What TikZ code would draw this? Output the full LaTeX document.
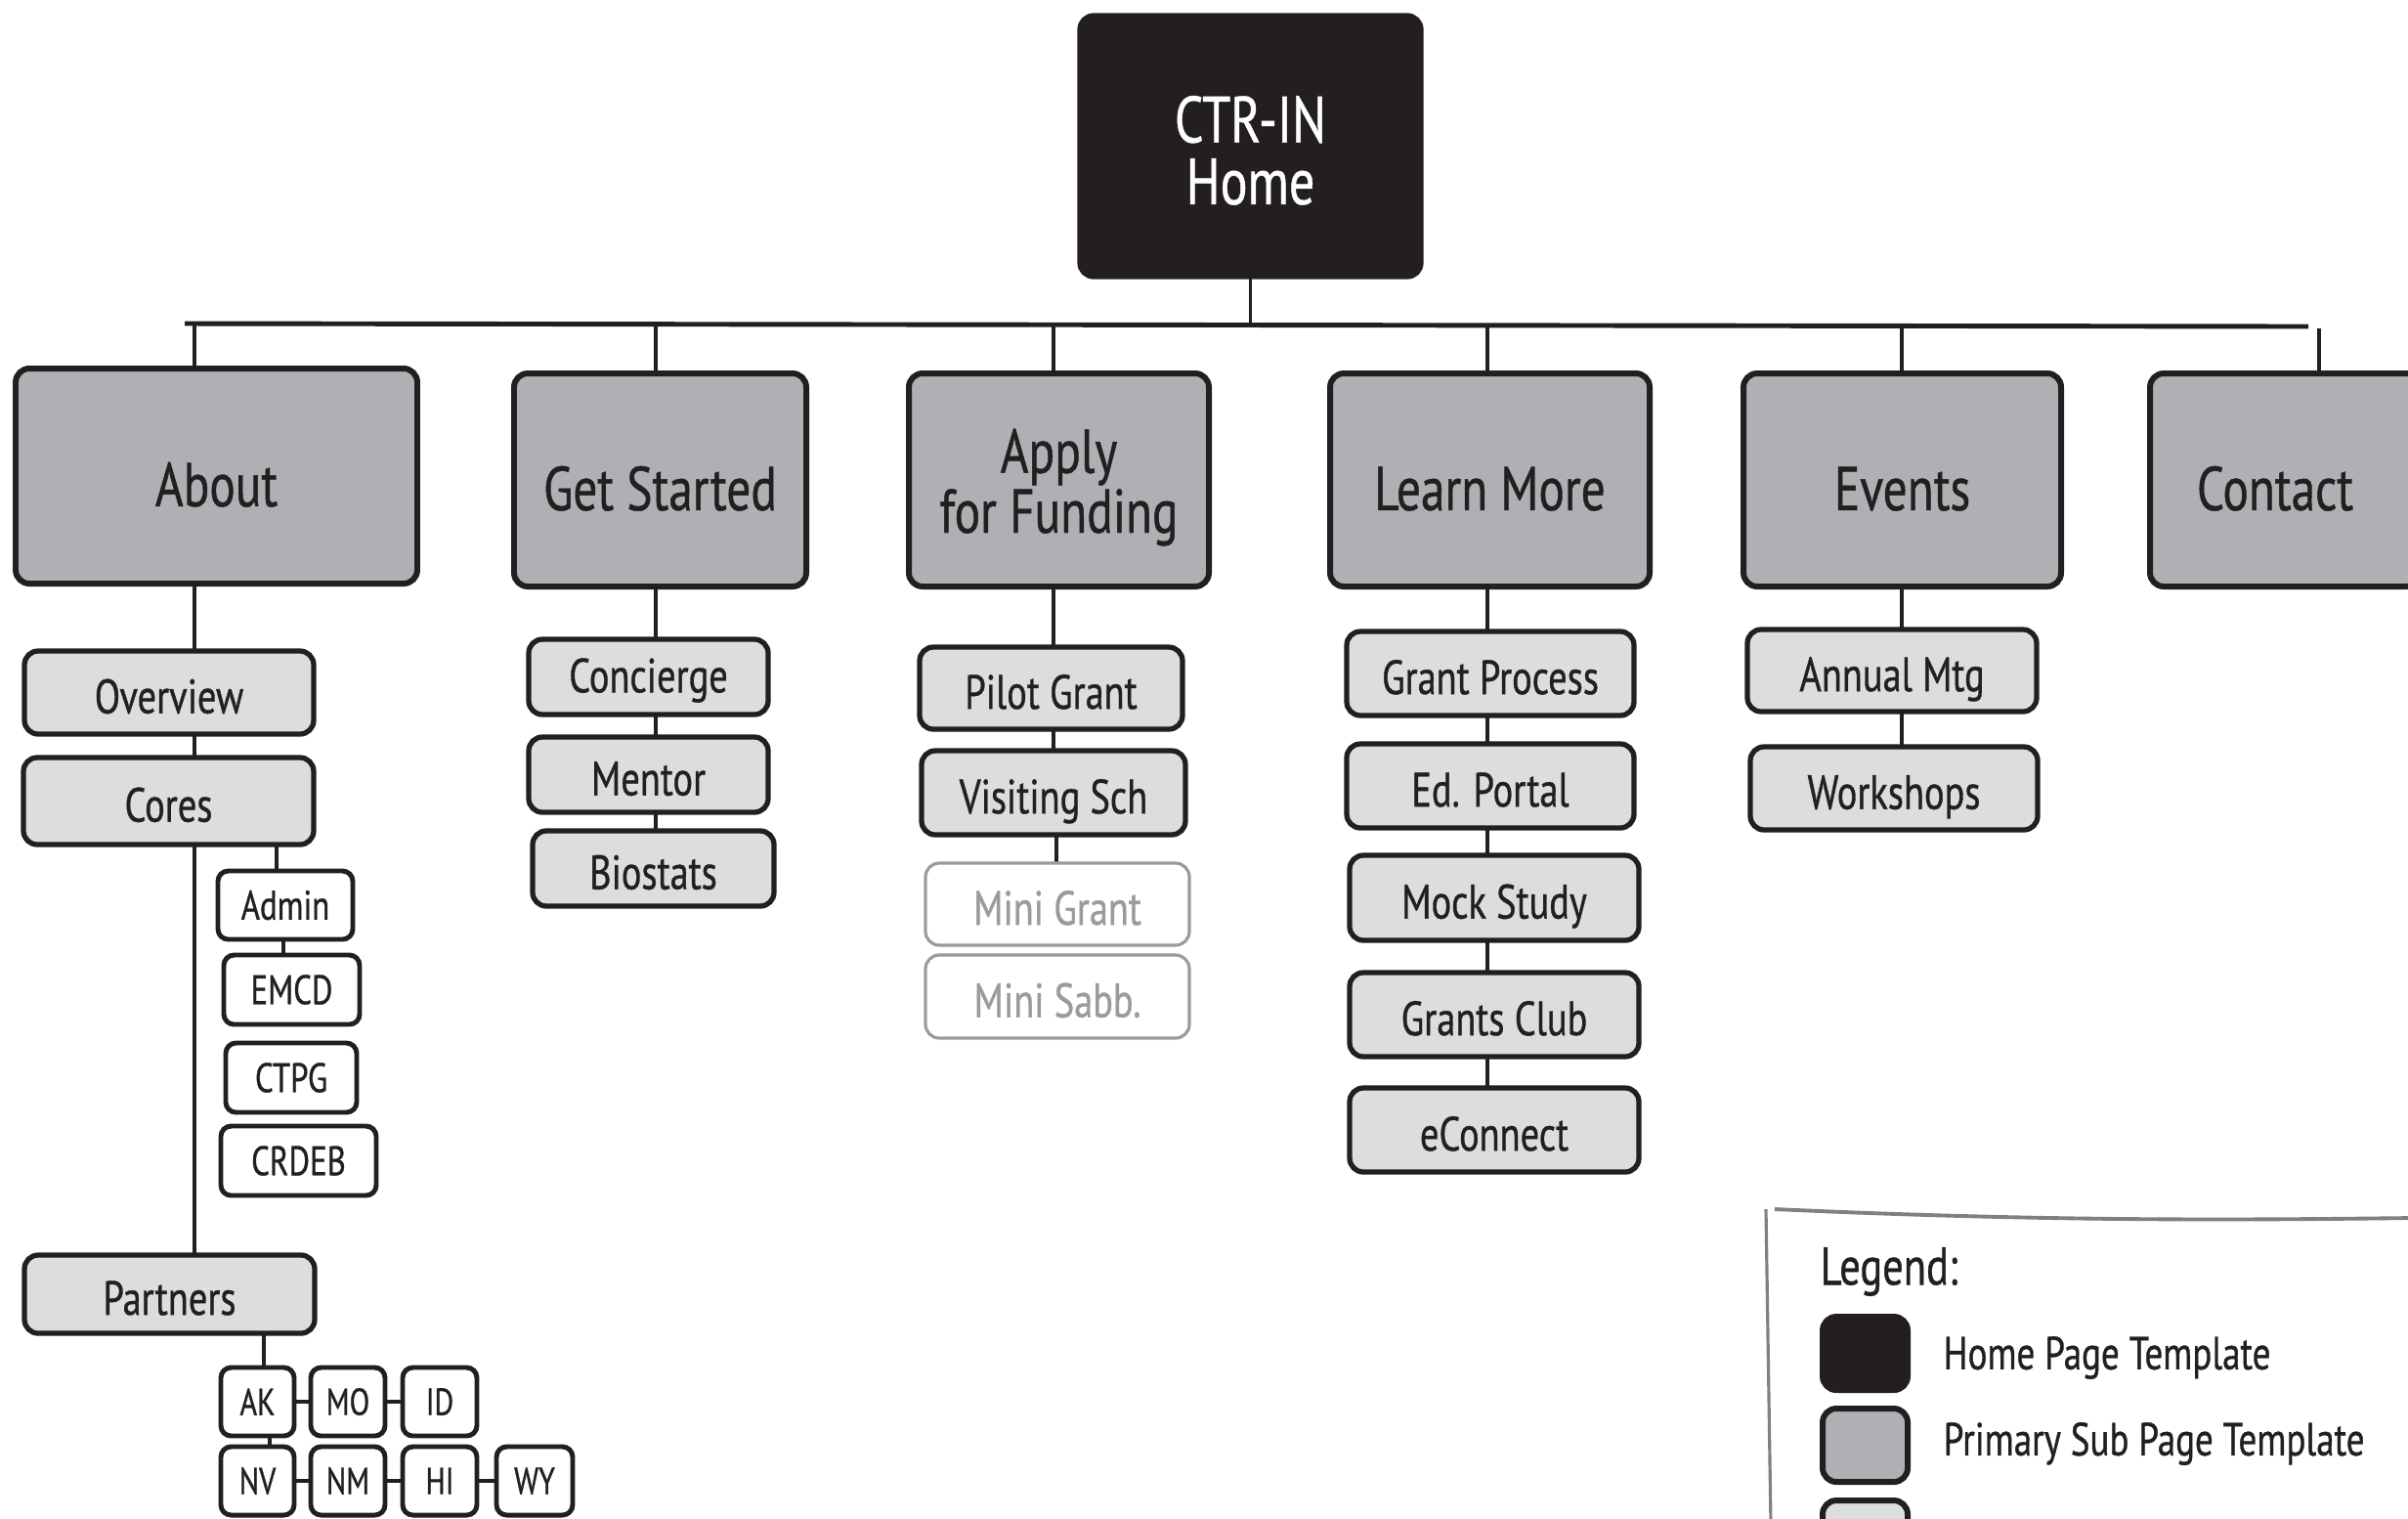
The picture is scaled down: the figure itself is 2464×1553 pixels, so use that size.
\documentclass[tikz,border=0pt]{standalone}
\usepackage{fontspec}
\newfontfamily\hand[FakeStretch=0.78,FakeBold=0.7]{PT Sans}
\definecolor{ink}{HTML}{231F20}
\definecolor{prim}{HTML}{AFB0B3}
\definecolor{sec}{HTML}{DCDDDE}
\definecolor{faint}{HTML}{9B9B9B}
\definecolor{framegray}{HTML}{808080}
\pgfdeclarelayer{bg}
\pgfsetlayers{bg,main}
\tikzset{
 base/.style={inner sep=0pt, outer sep=0pt, rounded corners=4pt, align=center, text=ink},
 homebox/.style={base, draw=ink, fill=ink, line width=1.5pt, text=white, font=\hand\fontsize{19}{18}\selectfont, text height=33.8pt, text depth=0pt},
 primbox/.style={base, draw=ink, fill=prim, line width=1.7pt, font=\hand\fontsize{18}{16}\selectfont, text height=17.6pt, text depth=0pt},
 secbox/.style={base, draw=ink, fill=sec, line width=1.5pt, font=\hand\fontsize{14}{16}\selectfont, text height=12pt, text depth=0pt},
 terbox/.style={base, draw=ink, fill=white, line width=1.4pt, rounded corners=3pt, font=\hand\fontsize{12}{14}\selectfont},
 statebox/.style={terbox, font=\hand\fontsize{11}{13}\selectfont},
 ghostbox/.style={base, draw=faint, fill=white, line width=0.9pt, text=faint, font=\hand\fontsize{14}{16}\selectfont, text height=12pt, text depth=0pt},
 legsq/.style={base, draw=ink, line width=1.7pt},
 link/.style={draw=ink, line width=1.1pt},
 legtext/.style={inner sep=0pt, anchor=west, text=ink, font=\hand\fontsize{13.5}{16}\selectfont},
}
\newcommand\bxnode[7]{\node[#6, minimum width={(#4-#2)*0.01cm}, minimum height={(#5-#3)*0.01cm}] (#1) at ({(#2+#4)/2},{(#3+#5)/2}) {#7};}
\begin{document}
\begin{tikzpicture}[x=0.01cm, y=-0.01cm]
\useasboundingbox (0,0) rectangle (2464,1553);
\clip (0,0) rectangle (2464,1553);
% home
\bxnode{home}{1105}{16}{1454}{283}{homebox}{CTR-IN\\Home}
% primary
\bxnode{about}{16}{377}{427}{597}{primbox}{About}
\bxnode{gs}{526}{382}{825}{600}{primbox}{Get Started}
\bxnode{apply}{930}{382}{1237}{600}{primbox, text height=30.7pt, text depth=0pt}{Apply\\for Funding}
\bxnode{learn}{1361}{382}{1688}{600}{primbox}{Learn More}
\bxnode{events}{1784}{382}{2109}{600}{primbox}{Events}
\bxnode{contact}{2200}{382}{2476}{600}{primbox}{\hspace*{-0.2cm}Contact}
% about children
\bxnode{overview}{25}{666}{321}{751}{secbox}{Overview}
\bxnode{cores}{24}{775}{321}{864}{secbox}{Cores}
\bxnode{partners}{25}{1284}{322}{1364}{secbox}{Partners}
\bxnode{admin}{223}{891}{361}{961}{terbox}{Admin}
\bxnode{emcd}{229}{977}{368}{1048}{terbox}{EMCD}
\bxnode{ctpg}{231}{1067}{365}{1138}{terbox}{CTPG}
\bxnode{crdeb}{226}{1152}{385}{1223}{terbox}{CRDEB}
\bxnode{ak}{226}{1399}{301}{1469}{statebox}{AK}
\bxnode{mo}{318}{1399}{394}{1469}{statebox}{MO}
\bxnode{id}{412}{1399}{488}{1469}{statebox}{ID}
\bxnode{nv}{226}{1480}{301}{1550}{statebox}{NV}
\bxnode{nm}{318}{1480}{394}{1550}{statebox}{NM}
\bxnode{hi}{412}{1480}{488}{1550}{statebox}{HI}
\bxnode{wy}{508}{1480}{586}{1550}{statebox}{WY}
% get started children
\bxnode{concierge}{541}{654}{786}{731}{secbox, text height=9pt}{Concierge}
\bxnode{mentor}{541}{754}{786}{831}{secbox}{Mentor}
\bxnode{biostats}{545}{850}{792}{927}{secbox}{Biostats}
% apply children
\bxnode{pilot}{941}{662}{1210}{746}{secbox}{Pilot Grant}
\bxnode{visit}{943}{768}{1213}{854}{secbox}{Visiting Sch}
\bxnode{minigrant}{947}{883}{1217}{967}{ghostbox}{Mini Grant}
\bxnode{minisabb}{947}{977}{1217}{1062}{ghostbox}{Mini Sabb.}
% learn children
\bxnode{gp}{1378}{646}{1672}{732}{secbox}{Grant Process}
\bxnode{edp}{1378}{761}{1672}{847}{secbox}{Ed. Portal}
\bxnode{mock}{1381}{875}{1677}{962}{secbox}{Mock Study}
\bxnode{club}{1381}{995}{1677}{1081}{secbox}{Grants Club}
\bxnode{econ}{1381}{1113}{1677}{1199}{secbox}{eConnect}
% events children
\bxnode{annual}{1788}{644}{2084}{728}{secbox}{Annual Mtg}
\bxnode{workshops}{1791}{764}{2085}{849}{secbox}{Workshops}
% legend
\bxnode{lgHome}{1865}{1347}{1952}{1422}{legsq, fill=ink}{}
\bxnode{lgPrim}{1865}{1441}{1952}{1516}{legsq, fill=prim}{}
\bxnode{lgSec}{1865}{1535}{1952}{1610}{legsq, fill=sec}{}
\node[legtext, font=\hand\fontsize{15.5}{18}\selectfont] (lgTitle) at (1862,1301) {Legend:};
\node[legtext] (lgT1) at (1988,1389) {Home Page Template};
\node[legtext] (lgT2) at (1988,1477) {Primary Sub Page Template};
% connector coordinates
\coordinate (busL) at (189,331);
\coordinate (busR) at (2362,334);
\coordinate (bAbout) at (199,332);
\coordinate (bGs) at (671,332);
\coordinate (bAp) at (1078,332);
\coordinate (bLm) at (1522,333);
\coordinate (bEv) at (1946,333);
\coordinate (bCt) at (2373,336);
\coordinate (xAdm) at (283,0);
\coordinate (xEm) at (290,0);
\coordinate (xMini) at (1081,0);
\coordinate (xPa) at (270,0);
\coordinate (xAn) at (276,0);
\coordinate (lgA) at (1807,1237);
\coordinate (lgB) at (1812,1560);
\coordinate (lgC) at (1816,1237);
\coordinate (lgD) at (2470,1246);
\begin{pgfonlayer}{bg}
 \draw[link, line width=1.4pt] (busL) -- (busR);
 \draw[link, line width=0.9pt] (home.south) -- (home.south |- busL);
 \draw[link] (bAbout) -- (bAbout |- about.north);
 \draw[link] (bGs) -- (bGs |- gs.north);
 \draw[link] (bAp) -- (bAp |- apply.north);
 \draw[link] (bLm) -- (bLm |- learn.north);
 \draw[link] (bEv) -- (bEv |- events.north);
 \draw[link] (bCt) -- (bCt |- contact.north);
 \draw[link] (bAbout |- about.south) -- (bAbout |- partners.north);
 \draw[link] (xAdm |- cores.south) -- (xAdm |- admin.north);
 \draw[link] (xEm |- admin.south) -- (xEm |- emcd.north);
 \draw[link] (xPa |- partners.south) -- (xPa |- ak.north);
 \draw[link] (xAn |- ak.south) -- (xAn |- nv.north);
 \draw[link] (ak) -- (mo);
 \draw[link] (mo) -- (id);
 \draw[link] (nv) -- (nm);
 \draw[link] (nm) -- (hi);
 \draw[link] (hi) -- (wy);
 \draw[link] (bGs |- gs.south) -- (bGs |- biostats.north);
 \draw[link] (bAp |- apply.south) -- (bAp |- visit.south);
 \draw[link] (xMini |- visit.south) -- (xMini |- minigrant.north);
 \draw[link] (bLm |- learn.south) -- (bLm |- econ.north);
 \draw[link] (bEv |- events.south) -- (bEv |- workshops.north);
 \draw[draw=framegray, line width=0.9pt] (lgA) -- (lgB);
 \draw[draw=framegray, line width=1.1pt] (lgC) .. controls (2100,1250) and (2300,1248) .. (lgD);
\end{pgfonlayer}
\end{tikzpicture}
\end{document}
